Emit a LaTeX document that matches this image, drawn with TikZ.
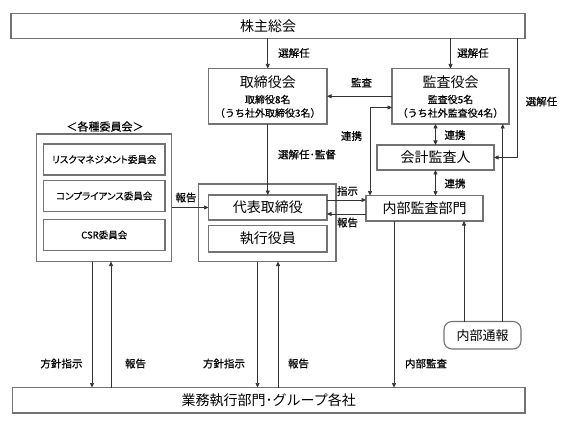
\documentclass[tikz,border=0pt]{standalone}
\usepackage{fontspec}
\setmainfont{Noto Sans CJK JP}
\newfontfamily\jpp{Noto Sans CJK JP}[RawFeature=+palt,FakeBold=0.3]
\newfontfamily\jpb{Noto Sans CJK JP}[FakeBold=0.6]
\newfontfamily\jps{Noto Sans CJK JP}[FakeBold=0.35]
\usetikzlibrary{arrows.meta}
\definecolor{bordergray}{rgb}{0.45,0.45,0.45}
\definecolor{linegray}{rgb}{0.2,0.2,0.2}
\tikzset{
  box/.style={draw=bordergray, line width=1.1pt, inner sep=0pt, outer sep=0pt, fill=white},
  conn/.style={draw=linegray, line width=0.7pt},
  arr/.style={conn, -{Triangle[length=4.5pt,width=4pt]}},
  arrb/.style={conn, {Triangle[length=4.5pt,width=4pt]}-{Triangle[length=4.5pt,width=4pt]}},
  big/.style={font=\fontsize{14}{16}\selectfont, inner sep=0pt},
  sm/.style={font=\jps\fontsize{10}{12}\selectfont, inner sep=0pt},
  lbl/.style={font=\jpb\fontsize{10.5}{12}\selectfont, inner sep=0pt},
  com/.style={font=\jpp\fontsize{9.5}{11}\selectfont, inner sep=0pt},
}
\begin{document}
\begin{tikzpicture}[x=1pt,y=-1pt]
\useasboundingbox (0,0) rectangle (567,422);
% boxes
\node[box, minimum width=514pt, minimum height=25pt] (top) at (268,26) {};
\node[big] (topt) at (268,26) {株主総会};
\node[box, minimum width=118.5pt, minimum height=55.5pt] (bod) at (267.75,96.25) {};
\node[big] (bodt) at (267.75,82) {取締役会};
\node[sm] (bods) at (267.75,99.5) {取締役8名};
\node[sm] (bodu) at (267.75,113) {（うち社外取締役3名）};
\node[box, minimum width=117pt, minimum height=55.5pt] (kansa) at (450.5,96.25) {};
\node[big] (kansat) at (450.5,82.5) {監査役会};
\node[sm] (kansas) at (450.5,99.5) {監査役5名};
\node[sm] (kansau) at (450.5,113) {（うち社外監査役4名）};
\node[box, minimum width=117pt, minimum height=25pt] (kaikei) at (435.5,157.5) {};
\node[big] (kaikeit) at (435.5,157.5) {会計監査人};
\node[box, minimum width=117pt, minimum height=25.5pt] (naibu) at (424.5,208.25) {};
\node[big] (naibut) at (424.5,208.25) {内部監査部門};
\node[box, minimum width=137.5pt, minimum height=77.5pt] (exec) at (267.25,222.75) {};
\node[box, minimum width=118.5pt, minimum height=25pt] (daihyo) at (267.75,207.5) {};
\node[big] (daihyot) at (267.75,207.5) {代表取締役};
\node[box, minimum width=118.5pt, minimum height=26.5pt] (shikko) at (267.75,238.75) {};
\node[big] (shikkot) at (267.75,238.75) {執行役員};
\node[box, minimum width=135pt, minimum height=127.5pt] (comm) at (104,197.75) {};
\node[font=\jps\fontsize{11}{12}\selectfont, inner sep=0pt] (commt) at (105,126.5) {＜各種委員会＞};
\node[box, minimum width=121.5pt, minimum height=31pt] (risk) at (104.25,159.5) {};
\node[com] (riskt) at (104.25,159.5) {リスクマネジメント委員会};
\node[box, minimum width=121.5pt, minimum height=31pt] (comp) at (104.25,196) {};
\node[com] (compt) at (104.25,196) {コンプライアンス委員会};
\node[box, minimum width=121.5pt, minimum height=31pt] (csr) at (104.25,235) {};
\node[com] (csrt) at (104.25,235) {CSR委員会};
\node[box, minimum width=512.5pt, minimum height=25.5pt] (gyomu) at (268.75,400.25) {};
\node[big] (gyomut) at (268.75,400.25) {業務執行部門･グループ各社};
\node[box, rounded corners=8pt, minimum width=77pt, minimum height=27.5pt] (tsuho) at (482.5,335.25) {};
\node[font=\fontsize{13}{15}\selectfont, inner sep=0pt] (tsuhot) at (482.5,335.25) {内部通報};
% helper coordinates
\coordinate (rx) at (517.5,0);
\coordinate (lk) at (370,107.5);
\coordinate (y1) at (0,200);
\coordinate (y2) at (0,214);
\coordinate (c1) at (92,0);
\coordinate (c2) at (111,0);
\coordinate (e1) at (257.5,0);
\coordinate (e2) at (278,0);
\coordinate (n1) at (394,0);
\coordinate (t1) at (464,0);
\coordinate (t2) at (502.7,0);
% connectors
\draw[arr] (top.south -| bod.north) -- (bod.north);
\draw[arr] (top.south -| kansa.north) -- (kansa.north);
\draw[arr] (top.south -| rx) |- (kaikei.east);
\draw[arr] (kansa.west) -- (bod.east);
\draw[arrb] (kansa.west |- lk) -| (naibu.north -| lk);
\draw[arrb] (kaikei.north |- kansa.south) -- (kaikei.north);
\draw[arrb] (kaikei.south) -- (kaikei.south |- naibu.north);
\draw[arr] (bod.south) -- (daihyo.north);
\draw[arr] (daihyo.east |- y1) -- (naibu.west |- y1);
\draw[arr] (naibu.west |- y2) -- (daihyo.east |- y2);
\draw[arr] (comm.east |- daihyo.west) -- (daihyo.west);
\draw[arr] (comm.south -| c1) -- (gyomu.north -| c1);
\draw[arr] (gyomu.north -| c2) -- (comm.south -| c2);
\draw[arr] (exec.south -| e1) -- (gyomu.north -| e1);
\draw[arr] (gyomu.north -| e2) -- (exec.south -| e2);
\draw[arr] (naibu.south -| n1) -- (gyomu.north -| n1);
\draw[arr] (tsuho.north -| t1) -- (naibu.south -| t1);
\draw[arr] (tsuho.north -| t2) -- (kansa.south -| t2);
% labels
\node[lbl] (l1) at (294,53) {選解任};
\node[lbl] (l2) at (473,53) {選解任};
\node[lbl] (l3) at (541.5,101.5) {選解任};
\node[lbl] (l4) at (361.5,82.5) {監査};
\node[lbl] (l5) at (351.5,136) {連携};
\node[lbl] (l6) at (455,135) {連携};
\node[lbl] (l7) at (455,183.5) {連携};
\node[lbl] (l8) at (307,154.5) {選解任･監督};
\node[lbl] (l9) at (347.5,191) {指示};
\node[lbl] (l10) at (347.5,222.5) {報告};
\node[lbl] (l11) at (186,197.5) {報告};
\node[lbl] (l12) at (61.5,363.5) {方針指示};
\node[lbl] (l13) at (135.5,363.5) {報告};
\node[lbl] (l14) at (224,363.5) {方針指示};
\node[lbl] (l15) at (298.5,363.5) {報告};
\node[lbl] (l16) at (426,363.5) {内部監査};
\end{tikzpicture}
\end{document}
